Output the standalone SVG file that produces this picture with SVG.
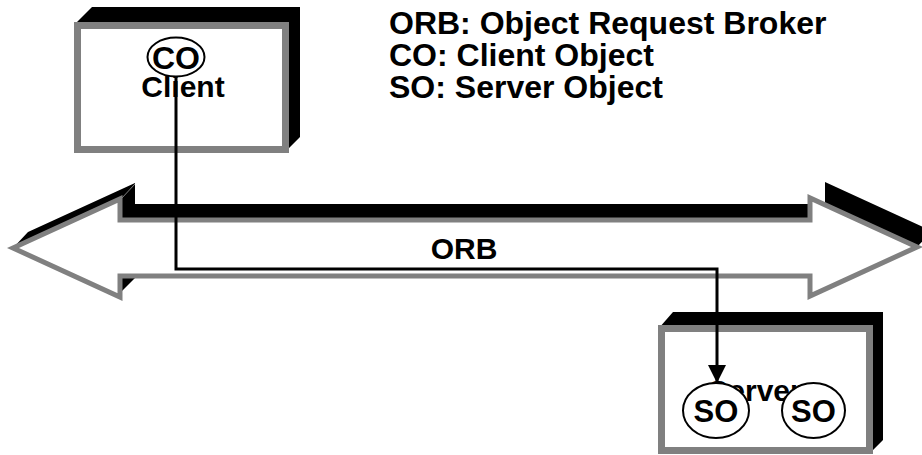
<svg xmlns="http://www.w3.org/2000/svg" width="922" height="455" viewBox="0 0 922 455">
  <defs>
    <marker id="arrowhead" viewBox="0 0 18 18" refX="18" refY="9" markerWidth="18" markerHeight="18" markerUnits="userSpaceOnUse" orient="auto">
      <path d="M0,0 L18,9 L0,18 Z" fill="#000"/>
    </marker>
  </defs>
  <style>
    .txt { font-family: "Liberation Sans", Arial, Helvetica, sans-serif; font-weight: bold; fill: #000; }
    .shadow { fill: #000; stroke: none; }
    .face { fill: #fff; stroke: #808080; stroke-width: 7; }
    .oval { fill: #fff; stroke: #000; stroke-width: 2; }
    .edge { stroke: #808080; stroke-width: 1; fill: none; }
    .conn { fill: none; stroke: #000; stroke-width: 3; }
  </style>
  <rect width="922" height="455" fill="#fff"/>

  <!-- Legend -->
  <g id="legend" class="txt" font-size="32">
    <text x="389" y="34">ORB: Object Request Broker</text>
    <text x="389" y="66">CO: Client Object</text>
    <text x="389" y="98">SO: Server Object</text>
  </g>

  <!-- Object request broker: extruded double-headed arrow -->
  <g id="orb">
    <polygon class="shadow" points="13,248 28,232 135,183 135,204 825,204 825,182 932,231 917,247 810,250 120,250"/>
    <polygon class="shadow" points="120,276 137,276 120,293"/>
    <line class="edge" x1="121" y1="199" x2="135" y2="184"/>
    <polygon fill="#fff" stroke="#808080" stroke-width="5" stroke-linejoin="miter" points="13,248 120,199 120,220 810,220 810,198 917,247 810,296 810,276 120,276 120,297"/>
    <text class="txt" x="464" y="259" font-size="30" text-anchor="middle">ORB</text>
  </g>

  <!-- Client box -->
  <g id="client">
    <polygon class="shadow" points="74,25 92,7 300,7 300,137 286,151 286,25"/>
    <rect class="face" x="77.5" y="25.5" width="208" height="124"/>
    <text class="txt" x="183" y="97" font-size="30" text-anchor="middle">Client</text>
    <g id="co">
      <ellipse class="oval" cx="176" cy="57" rx="28.5" ry="19.5"/>
      <text class="txt" x="176" y="69" font-size="32" text-anchor="middle">CO</text>
    </g>
  </g>

  <!-- Server box -->
  <g id="server">
    <polygon class="shadow" points="659,328 673,312 883,312 883,440 870,453 870,328"/>
    <rect class="face" x="661.5" y="328.5" width="208" height="122"/>
    <text class="txt" x="755" y="401" font-size="30" text-anchor="middle">Server</text>
    <g id="so1">
      <ellipse class="oval" cx="716" cy="410.5" rx="33" ry="27.5"/>
      <text class="txt" x="716" y="422" font-size="31" text-anchor="middle">SO</text>
    </g>
    <g id="so2">
      <ellipse class="oval" cx="813.5" cy="410.5" rx="31.5" ry="27.5"/>
      <text class="txt" x="813.5" y="422" font-size="31" text-anchor="middle">SO</text>
    </g>
  </g>

  <!-- Connectors -->
  <g id="connectors">
    <path class="conn" d="M176,76.5 V269 H717 V383" marker-end="url(#arrowhead)"/>
  </g>
</svg>
